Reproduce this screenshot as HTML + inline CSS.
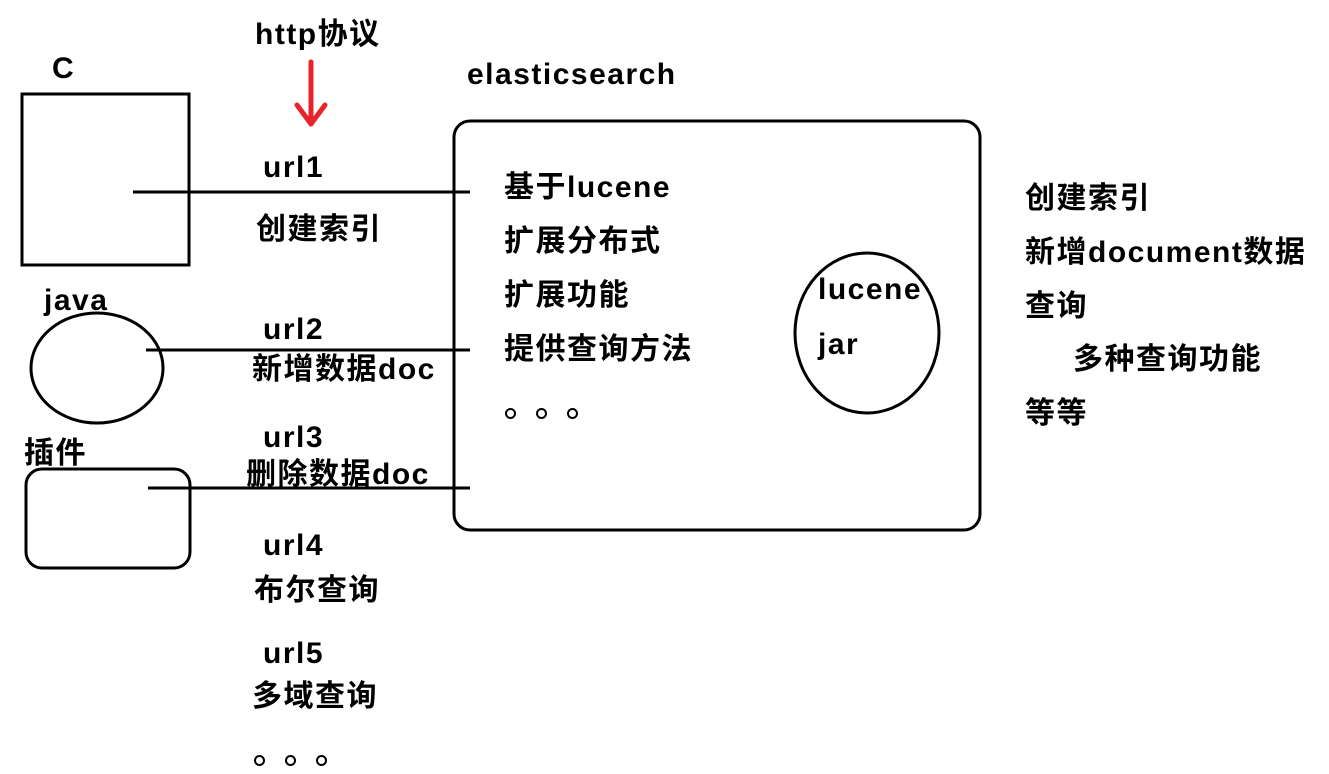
<!DOCTYPE html>
<html><head><meta charset="utf-8"><style>
body{margin:0;width:1329px;height:774px;background:#fff;position:relative;overflow:hidden;font-family:"Liberation Sans","Noto Sans CJK SC",sans-serif;font-weight:bold;color:#000}
.t{position:absolute;font-size:30px;line-height:30px;white-space:nowrap;letter-spacing:1.5px}
.d{position:absolute;width:7px;height:7px;border:2px solid #000;border-radius:50%}
svg{position:absolute;left:0;top:0}
</style></head><body>
<svg width="1329" height="774">
<g fill="none" stroke="#000" stroke-width="3">
<rect x="22" y="94" width="167" height="171"/>
<line x1="133" y1="192" x2="470" y2="192"/>
<rect x="454" y="121" width="526" height="409" rx="16"/>
<ellipse cx="867" cy="333" rx="72" ry="80"/>
<ellipse cx="97" cy="368" rx="66" ry="55"/>
<line x1="146" y1="350" x2="470" y2="350"/>
<rect x="26" y="469" width="164" height="99" rx="16"/>
<line x1="148" y1="488" x2="470" y2="488"/>
</g>
<g stroke="#e8242a" stroke-width="5" fill="none" stroke-linecap="round" stroke-linejoin="round">
<line x1="311" y1="62" x2="311" y2="124"/>
<polyline points="297,105 311,124 325,105"/>
</g>
</svg>
<div class="t" style="left:52px;top:54px">C</div>
<div class="t" style="left:255px;top:20px">http协议</div>
<div class="t" style="left:263px;top:153px">url1</div>
<div class="t" style="left:256px;top:215px">创建索引</div>
<div class="t" style="left:467px;top:60px">elasticsearch</div>
<div class="t" style="left:504px;top:173px">基于lucene</div>
<div class="t" style="left:504px;top:227px">扩展分布式</div>
<div class="t" style="left:504px;top:281px">扩展功能</div>
<div class="t" style="left:504px;top:335px">提供查询方法</div>
<div class="d" style="left:505px;top:408px"></div>
<div class="d" style="left:536px;top:408px"></div>
<div class="d" style="left:567px;top:408px"></div>
<div class="t" style="left:818px;top:275px">lucene</div>
<div class="t" style="left:818px;top:330px">jar</div>
<div class="t" style="left:1025px;top:184px">创建索引</div>
<div class="t" style="left:1025px;top:238px">新增document数据</div>
<div class="t" style="left:1025px;top:292px">查询</div>
<div class="t" style="left:1073px;top:345px">多种查询功能</div>
<div class="t" style="left:1025px;top:399px">等等</div>
<div class="t" style="left:44px;top:286px">java</div>
<div class="t" style="left:263px;top:315px">url2</div>
<div class="t" style="left:252px;top:355px">新增数据doc</div>
<div class="t" style="left:263px;top:423px">url3</div>
<div class="t" style="left:24px;top:439px">插件</div>
<div class="t" style="left:246px;top:460px">删除数据doc</div>
<div class="t" style="left:263px;top:531px">url4</div>
<div class="t" style="left:254px;top:576px">布尔查询</div>
<div class="t" style="left:263px;top:639px">url5</div>
<div class="t" style="left:252px;top:682px">多域查询</div>
<div class="d" style="left:254px;top:755px"></div>
<div class="d" style="left:285px;top:755px"></div>
<div class="d" style="left:316px;top:755px"></div>
</body></html>
